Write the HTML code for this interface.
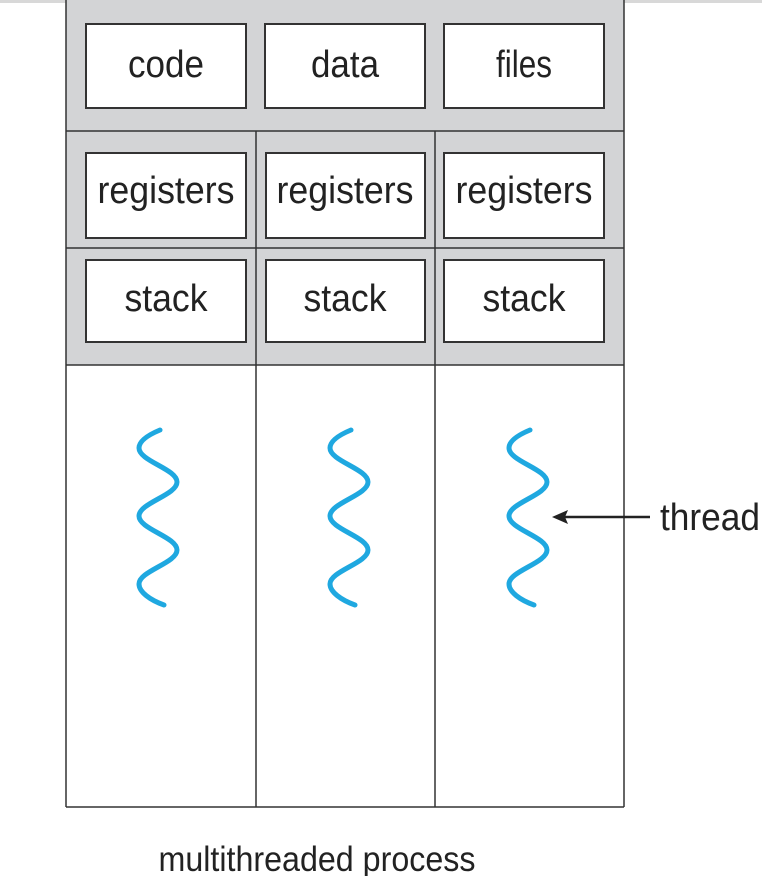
<!DOCTYPE html>
<html><head><meta charset="utf-8"><style>
html,body{margin:0;padding:0;background:#fff;}
svg{display:block;}
text{font-family:"Liberation Sans",Arial,sans-serif;fill:#222;}
</style></head><body>
<svg width="762" height="876" viewBox="0 0 762 876" xmlns="http://www.w3.org/2000/svg">
<rect x="0" y="0" width="762" height="3" fill="#d8d8d8"/>
<rect x="66" y="0" width="558" height="365" fill="#d3d4d6"/>
<g stroke="#333" stroke-width="1.5" fill="none">
<line x1="66" y1="0" x2="66" y2="807"/>
<line x1="624" y1="0" x2="624" y2="807"/>
<line x1="66" y1="807" x2="624" y2="807"/>
<line x1="66" y1="131" x2="624" y2="131"/>
<line x1="66" y1="248" x2="624" y2="248"/>
<line x1="66" y1="365" x2="624" y2="365"/>
<line x1="256" y1="131" x2="256" y2="807"/>
<line x1="435" y1="131" x2="435" y2="807"/>
</g>
<g stroke="#333" stroke-width="2" fill="#fff">
<rect x="86" y="24" width="160" height="84"/>
<rect x="265" y="24" width="160" height="84"/>
<rect x="444" y="24" width="160" height="84"/>
<rect x="86" y="153" width="160" height="85"/>
<rect x="266" y="153" width="159" height="85"/>
<rect x="444" y="153" width="160" height="85"/>
<rect x="86" y="260" width="160" height="82"/>
<rect x="266" y="260" width="159" height="82"/>
<rect x="444" y="260" width="160" height="82"/>
</g>
<g font-size="38" text-anchor="middle" lengthAdjust="spacingAndGlyphs">
<text x="166" y="77" textLength="76" lengthAdjust="spacingAndGlyphs">code</text>
<text x="345" y="77" textLength="68" lengthAdjust="spacingAndGlyphs">data</text>
<text x="524" y="77" textLength="56" lengthAdjust="spacingAndGlyphs">files</text>
<text x="166" y="203" textLength="137" lengthAdjust="spacingAndGlyphs">registers</text>
<text x="345" y="203" textLength="137" lengthAdjust="spacingAndGlyphs">registers</text>
<text x="524" y="203" textLength="137" lengthAdjust="spacingAndGlyphs">registers</text>
<text x="166" y="311" textLength="83" lengthAdjust="spacingAndGlyphs">stack</text>
<text x="345" y="311" textLength="83" lengthAdjust="spacingAndGlyphs">stack</text>
<text x="524" y="311" textLength="83" lengthAdjust="spacingAndGlyphs">stack</text>
</g>
<g stroke="#1fa8e0" stroke-width="5" fill="none" stroke-linecap="round">
<path d="M2,430 C-10,435 -19,441 -19,448 C-19,461 19,469 19,482 C19,495 -19,503 -19,516 C-19,529 19,537 19,550 C19,563 -19,571 -19,584 C-19,592 -8,600 6,605" transform="translate(158,0)"/>
<path d="M2,430 C-10,435 -19,441 -19,448 C-19,461 19,469 19,482 C19,495 -19,503 -19,516 C-19,529 19,537 19,550 C19,563 -19,571 -19,584 C-19,592 -8,600 6,605" transform="translate(349,0)"/>
<path d="M2,430 C-10,435 -19,441 -19,448 C-19,461 19,469 19,482 C19,495 -19,503 -19,516 C-19,529 19,537 19,550 C19,563 -19,571 -19,584 C-19,592 -8,600 6,605" transform="translate(528,0)"/>
</g>
<line x1="650" y1="517" x2="562" y2="517" stroke="#222" stroke-width="2.5"/>
<polygon points="552,517 568,510 565,517 568,524" fill="#222"/>
<text x="660" y="530" font-size="38" textLength="100" lengthAdjust="spacingAndGlyphs">thread</text>
<text x="317" y="871" font-size="35" text-anchor="middle" textLength="317" lengthAdjust="spacingAndGlyphs">multithreaded process</text>
</svg>
</body></html>
